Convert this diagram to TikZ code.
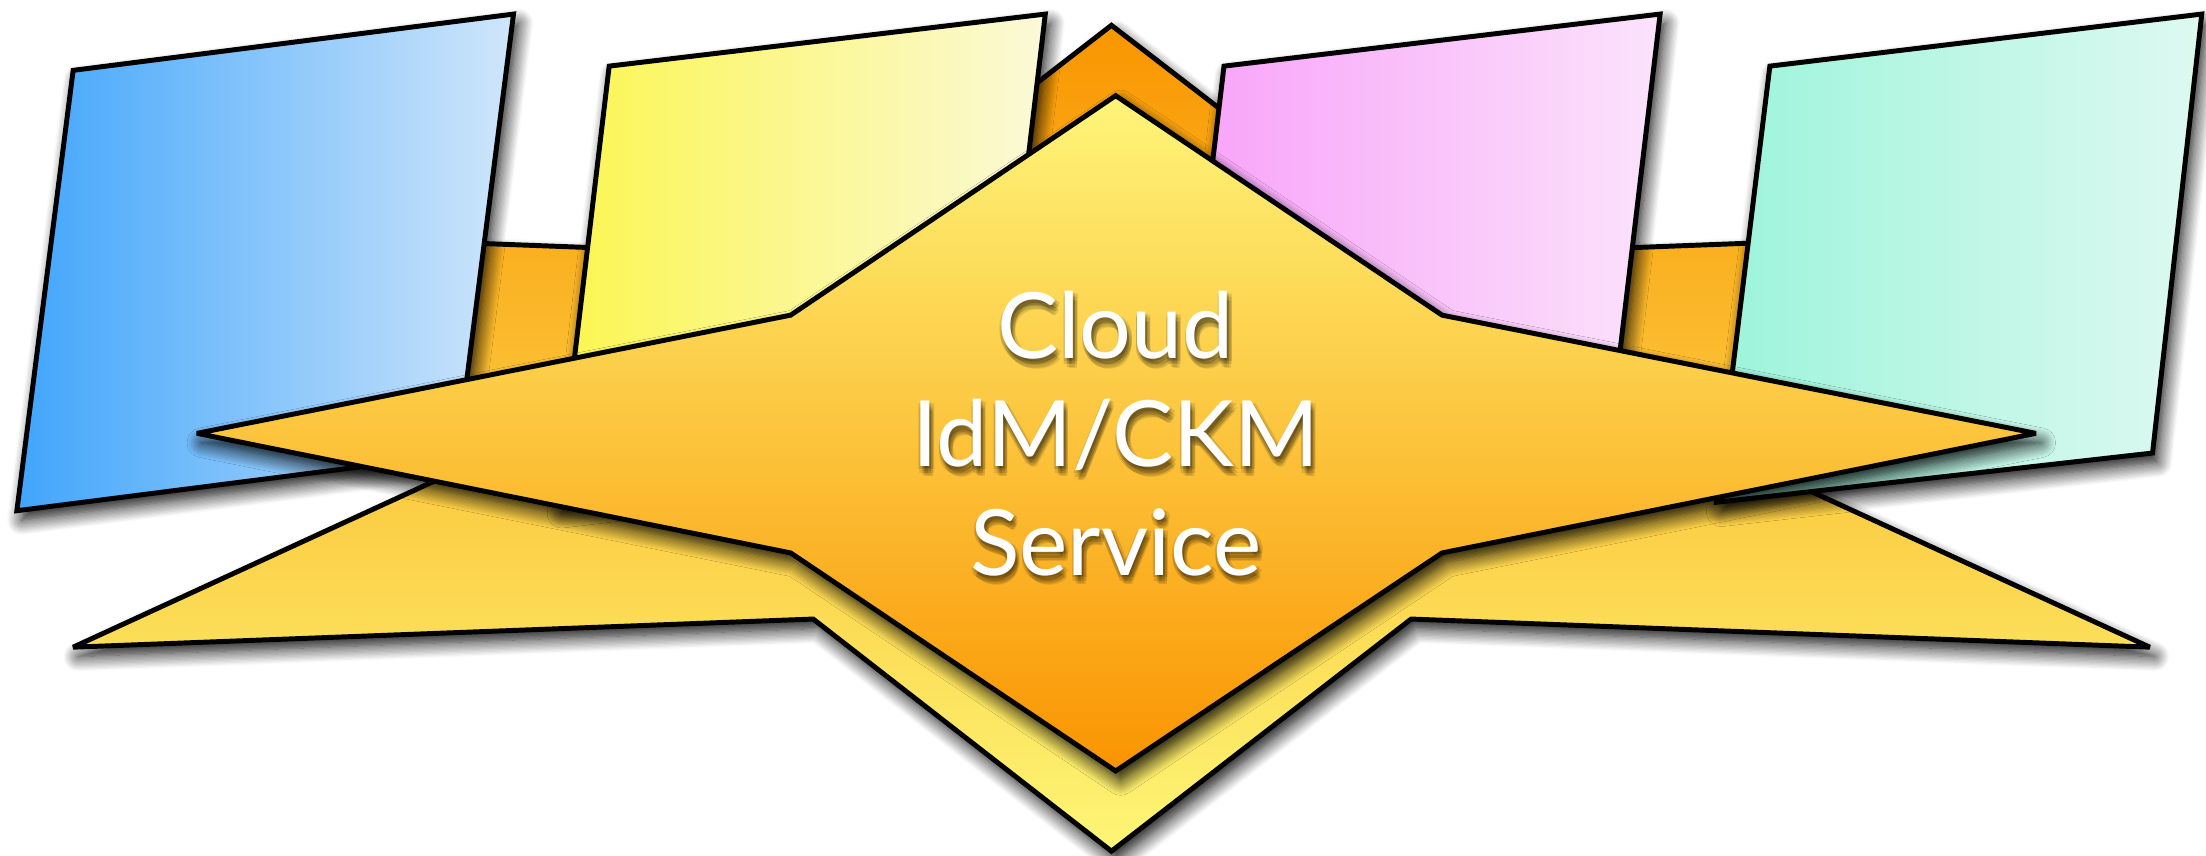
\documentclass[tikz,border=0pt]{standalone}
\usepackage{fontspec}
\setmainfont{Lato}
\usetikzlibrary{shadows.blur}

% square fills
\definecolor{blueL}{HTML}{40A5FB}
\definecolor{blueR}{HTML}{D0E6FB}
\definecolor{yelL}{HTML}{FBF64E}
\definecolor{yelR}{HTML}{FBF9D8}
\definecolor{pinkL}{HTML}{F8A0F9}
\definecolor{pinkR}{HTML}{FBE3FB}
\definecolor{tealL}{HTML}{9CF4DA}
\definecolor{tealR}{HTML}{DEF9F1}
% star fills
\definecolor{bsTop}{HTML}{F99600}
\definecolor{bsMid}{HTML}{FCCB48}
\definecolor{bsBot}{HTML}{FDF676}
\definecolor{fsTop}{HTML}{FEF57A}
\definecolor{fsMid}{HTML}{FCCB45}
\definecolor{fsBot}{HTML}{FA9400}

% one blurred copy of a caption line, offset by (#1,#2)
\newcommand\shcopy[3]{\rlap{\hspace*{#1}\raisebox{#2}{#3}}}
% caption line in white over a soft dark shadow
\newcommand\shadowed[1]{{\pgfsetfillopacity{0.11}\color{black}%
  \shcopy{0.4pt}{-1.0pt}{#1}\shcopy{0.9pt}{-1.3pt}{#1}\shcopy{-0.2pt}{-1.3pt}{#1}%
  \shcopy{0.4pt}{-1.8pt}{#1}\shcopy{1.0pt}{-0.6pt}{#1}\shcopy{-0.3pt}{-0.6pt}{#1}%
  \shcopy{0.4pt}{-0.4pt}{#1}\shcopy{0.8pt}{-2.0pt}{#1}%
  \pgfsetfillopacity{1}}#1}

\tikzset{
  outline/.style={draw=black, line width=1pt, line join=miter, miter limit=3},
  castshadow/.style={blur shadow={shadow xshift=1pt, shadow yshift=-1.9pt,
      shadow blur radius=3pt, shadow blur steps=12, shadow opacity=95}},
  label/.style={anchor=base, text=white, font=\fontsize{18.5}{22}\selectfont, inner sep=0pt},
}

\begin{document}
\begin{tikzpicture}[x=0.1mm, y=-0.1mm]
\useasboundingbox (0,0) rectangle (1568,608);

% six-pointed star at the back
\path[outline, castshadow, top color=bsTop, middle color=bsMid, bottom color=bsBot]
  (790,18) -- (578,182) -- (52,162) -- (376,311) -- (52,460) -- (578,440)
  -- (790,605) -- (1003,440) -- (1528,460) -- (1204,311) -- (1528,162)
  -- (1003,182) -- cycle;

% four tilted squares
\path[outline, castshadow, left color=blueL, right color=blueR]
  (52,50) -- (365,10) -- (325,323) -- (12,363) -- cycle;
\path[outline, castshadow, left color=yelL, right color=yelR]
  (433,47) -- (743,10) -- (706,321) -- (396,358) -- cycle;
\path[outline, castshadow, left color=pinkL, right color=pinkR]
  (870,47) -- (1180,10) -- (1143,321) -- (833,358) -- cycle;
\path[outline, castshadow, left color=tealL, right color=tealR]
  (1258,47) -- (1565,10) -- (1530,322) -- (1220,357) -- cycle;

% four-pointed star in front
\path[outline, castshadow, top color=fsTop, middle color=fsMid, bottom color=fsBot]
  (793,68) -- (1025,224) -- (1447,308) -- (1025,393) -- (793,548)
  -- (562,393) -- (140,308) -- (562,224) -- cycle;

% caption
\node[label] (cloud) at (793,254.7) {\shadowed{Cloud}};
\node[label] (idm) at (793,331.7) {\shadowed{IdM/CKM}};
\node[label] (service) at (793,408.7) {\shadowed{Service}};
\end{tikzpicture}
\end{document}
